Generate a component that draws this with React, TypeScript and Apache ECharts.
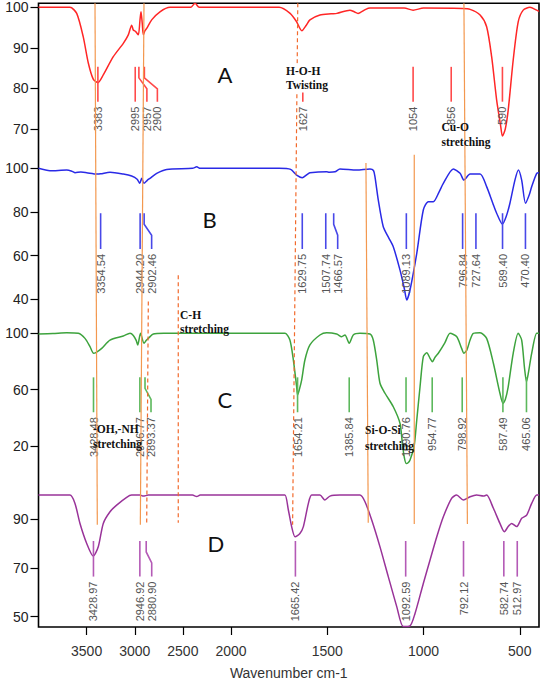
import React, { useEffect, useRef } from "react";
import * as echarts from "echarts";

// ---------- data ----------
const spectrumA: [number, number][] = [
  [4000, 100], [3673, 100], [3603, 98.5], [3535, 92.7], [3482, 86.2], [3430, 82.2], [3383, 81.4],
  [3327, 83.3], [3223, 87.8], [3119, 91.1], [3067, 93.2], [3032, 95.6], [3015, 94.4], [2990, 94.0],
  [2963, 93.2], [2945, 97.0], [2935, 98.9], [2922, 96.0], [2911, 93.2], [2895, 94.2], [2876, 94.8],
  [2824, 96.9], [2738, 98.9], [2634, 100], [2420, 100], [2374, 101], [2330, 100], [1750, 100],
  [1693, 98.5], [1660, 96.5], [1632, 94.2], [1610, 95.5], [1590, 96.9], [1538, 98.1], [1480, 98.4],
  [1450, 98.5], [1382, 99.3], [1360, 98.9], [1340, 98.5], [1300, 99.5], [1278, 99.8], [1100, 99.8],
  [1054, 99.3], [1000, 99.8], [800, 99.7], [758, 99.5], [706, 98.1], [672, 95.2], [646, 87.8],
  [620, 77.1], [600, 71.0], [590, 68.2], [575, 70.0], [560, 74.6], [534, 87.0], [508, 96.4],
  [482, 99.3], [447, 100], [412, 99.3], [400, 99.0],
];
const spectrumB: [number, number][] = [
  [4000, 100], [3881, 98.9], [3707, 99.2], [3650, 98.6], [3620, 98.0], [3560, 98.3], [3499, 98.0],
  [3395, 97.4], [3354, 97.5], [3257, 98.2], [3119, 97.4], [3032, 96.5], [2975, 95.0], [2948, 93.1],
  [2928, 95.4], [2904, 93.1], [2870, 94.5], [2842, 95.4], [2772, 97.7], [2668, 99.5], [2400, 100],
  [2356, 100.7], [2320, 100], [1750, 100], [1690, 99.5], [1659, 96.9], [1630, 95.7], [1600, 97.5],
  [1590, 98.0], [1503, 98.4], [1490, 98.2], [1460, 98.4], [1434, 99.7], [1347, 99.2], [1278, 99.7],
  [1260, 99.0], [1252, 96.1], [1235, 85.5], [1209, 73.2], [1180, 68.0], [1157, 64.0], [1122, 53.3],
  [1100, 45.0], [1087, 39.6], [1070, 44.2], [1035, 61.0], [1001, 80.9], [975, 84.7], [949, 84.7],
  [920, 89.0], [897, 93.1], [845, 99.7], [810, 97.7], [790, 94.6], [758, 97.4], [706, 97.4],
  [672, 91.6], [640, 84.0], [620, 79.4], [590, 74.4], [570, 78.0], [551, 84.0], [525, 94.6],
  [507, 99.2], [490, 94.6], [470, 84.0], [450, 88.0], [438, 91.6], [412, 97.7], [400, 98.0],
];
const spectrumC: [number, number][] = [
  [4000, 99.5], [3850, 99.8], [3707, 100.4], [3586, 100], [3517, 96.4], [3465, 90.5], [3428, 85.8],
  [3400, 86.5], [3343, 89.3], [3257, 95.2], [3119, 98.1], [3049, 100], [3015, 98.5], [2985, 95.0],
  [2969, 91.7], [2940, 100], [2904, 92.9], [2880, 95.0], [2859, 96.4], [2807, 99.5], [2700, 100],
  [1750, 100], [1719, 100], [1694, 95.2], [1676, 81.0], [1659, 62.0], [1654, 56.1], [1645, 60.0],
  [1633, 66.8], [1616, 81.0], [1590, 91.7], [1538, 98.8], [1503, 100.4], [1451, 99.5], [1425, 97.6],
  [1408, 98.8], [1386, 92.9], [1365, 98.8], [1330, 100], [1278, 99.5], [1261, 95.2], [1243, 81.0],
  [1226, 64.5], [1200, 57.4], [1157, 47.8], [1122, 36.0], [1110, 22.0], [1100, 12.0], [1090, 7.5],
  [1080, 8.0], [1070, 10.0], [1049, 19.4], [1035, 38.4], [1018, 62.0], [1001, 83.4], [983, 86.2],
  [966, 82.2], [954, 79.8], [940, 83.0], [923, 85.8], [890, 93.0], [862, 100], [827, 97.6],
  [802, 89.3], [790, 85.8], [775, 88.0], [758, 95.2], [741, 100], [706, 100.4], [672, 96.4],
  [637, 78.7], [603, 57.4], [587, 50.2], [575, 53.0], [560, 62.0], [534, 85.8], [508, 100],
  [490, 95.2], [475, 75.0], [465, 65.6], [455, 72.0], [438, 85.8], [412, 100], [400, 100],
];
const spectrumD: [number, number][] = [
  [4000, 99.8], [3673, 99.8], [3621, 96.4], [3569, 88.2], [3499, 80.0], [3431, 74.8], [3379, 78.6],
  [3327, 88.2], [3257, 93.0], [3188, 95.7], [3084, 98.9], [3032, 99.8], [2945, 99.8], [2911, 99.4],
  [2859, 99.8], [2400, 99.8], [2356, 99.2], [2320, 99.8], [1750, 99.8], [1720, 99.8], [1702, 93.7],
  [1685, 86.9], [1667, 82.7], [1642, 84.1], [1624, 86.9], [1598, 96.4], [1581, 99.8], [1538, 99.8],
  [1512, 97.8], [1486, 99.4], [1434, 99.8], [1330, 99.8], [1304, 97.1], [1269, 89.6], [1226, 78.6],
  [1183, 66.4], [1139, 54.1], [1105, 45.9], [1070, 46.2], [1044, 51.3], [1001, 63.6], [966, 73.2],
  [931, 82.7], [897, 90.9], [854, 98.5], [828, 99.8], [793, 97.8], [758, 99.1], [724, 99.8],
  [689, 99.4], [672, 99.8], [637, 94.4], [603, 88.2], [580, 84.8], [560, 86.9], [542, 88.2],
  [516, 86.9], [490, 90.3], [464, 91.6], [438, 96.4], [412, 99.8], [400, 99.8],
];

const peaksA = [3383, 2995, 2957, 2900, 1627, 1054, 856, 590];
const peaksB = [3354.54, 2944.2, 2902.46, 1629.75, 1507.74, 1466.57, 1089.13, 796.84, 727.64, 589.4, 470.4];
const peaksC = [3428.48, 2946.77, 2893.37, 1654.21, 1385.84, 1090.76, 954.77, 798.92, 587.49, 465.06];
const peaksD = [3428.97, 2946.92, 2880.9, 1665.42, 1092.59, 792.12, 582.74, 512.97];

const xTickLabels = [3500, 3000, 2500, 2000, 1500, 1000, 500];
const yTicksA = [70, 80, 90, 100];
const yTicksB = [40, 60, 80, 100];
const yTicksC = [20, 60, 100];
const yTicksD = [50, 70, 90];

// annotation guide lines (wavenumber at top/bottom, fraction of frame height)
const guideWTop = [3413, 2904, 2859, 2548, 1653, 1299, 1048, 790];
const guideWBottom = [3389, 2942, 2876, 2548, 1680, 1287, 1048, 772];
const guideFTop = [0, 0, 0.478, 0.436, 0, 0.256, 0.243, 0];
const guideFBottom = [0.836, 0.836, 0.836, 0.833, 0.836, 0.833, 0.835, 0.835];
const guideDashed = [false, false, true, true, true, false, false, false];

// ---------- layout ----------
const toU = (w: number) => (w > 2000 ? 2000 + (w - 2000) / 2 : w);
const fromU = (u: number) => (u > 2000 ? 2000 + (u - 2000) * 2 : u);

const GRID = { left: 38.5, right: 4, top: 3.3, bottom: 55 };

const panels = [
  { name: "A", data: spectrumA, peaks: peaksA, dec: 0, ticks: yTicksA, color: "#ff2626", mark: "#ff4a4a",
    yMin: -53.0, yMax: 100.99, markTop: 85.3, markBottom: 76.7, shifts: [0, 0, 8, 13, 0, 0, 0, 0] },
  { name: "B", data: spectrumB, peaks: peaksB, dec: 2, ticks: yTicksB, color: "#2a2ae6", mark: "#4848e8",
    yMin: -110.4, yMax: 175.7, markTop: 79.4, markBottom: 63, shifts: [0, 0, 7.5, 0, 0, 4, 0, 0, 0, 0, 0] },
  { name: "C", data: spectrumC, peaks: peaksC, dec: 2, ticks: yTicksC, color: "#3da33d", mark: "#5cb85c",
    yMin: -108.7, yMax: 334.5, markTop: 68.7, markBottom: 43.9, shifts: [0, 0, 6, 0, 0, 0, 0, 0, 0, 0] },
  { name: "D", data: spectrumD, peaks: peaksD, dec: 2, ticks: yTicksD, color: "#993399", mark: "#b45ab6",
    yMin: 45.74, yMax: 301.4, markTop: 81, markBottom: 66.4, shifts: [0, 0, 5.5, 0, 0, 0, 0, 0] },
];

const FONT = "'Liberation Sans', Arial, sans-serif";
const SERIF = "'Liberation Serif', 'Times New Roman', serif";

export default function App() {
  const ref = useRef<HTMLDivElement>(null);
  useEffect(() => {
    if (!ref.current) return;
    const chart = echarts.init(ref.current, undefined, { renderer: "svg" });

    const grids: any[] = [];
    const xAxes: any[] = [];
    const yAxes: any[] = [];
    const series: any[] = [];

    for (let i = 0; i < 5; i++) {
      grids.push({
        ...GRID,
        containLabel: false,
        outerBoundsMode: "none",
        show: i === 0,
        borderColor: "#000",
        borderWidth: 1.6,
        backgroundColor: "transparent",
      });
      const isBottom = i === 3;
      xAxes.push({
        type: "value",
        gridIndex: i,
        min: 400,
        max: 3000,
        inverse: true,
        show: isBottom,
        axisLine: { show: false },
        splitLine: { show: false },
        axisTick: {
          show: isBottom,
          customValues: xTickLabels.map(toU),
          length: 8,
          lineStyle: { color: "#000", width: 1.2 },
        },
        axisLabel: {
          show: isBottom,
          customValues: xTickLabels.map(toU),
          formatter: (v: number) => String(Math.round(fromU(v))),
          fontSize: 14,
          color: "#333",
          fontFamily: FONT,
          margin: 17,
        },
        name: isBottom ? "Wavenumber cm-1" : "",
        nameLocation: "middle",
        nameGap: 39,
        nameTextStyle: { fontSize: 14, color: "#333", fontFamily: FONT },
      });
    }

    panels.forEach((p, i) => {
      yAxes.push({
        type: "value",
        gridIndex: i,
        min: p.yMin,
        max: p.yMax,
        axisLine: { show: false },
        splitLine: { show: false },
        axisTick: { show: true, customValues: p.ticks, length: 8, lineStyle: { color: "#000", width: 1.2 } },
        axisLabel: { customValues: p.ticks, fontSize: 14, color: "#222", fontFamily: FONT, margin: 10 },
      });
      series.push({
        type: "line",
        xAxisIndex: i,
        yAxisIndex: i,
        data: p.data.map(([w, t]) => [toU(w), t]),
        showSymbol: false,
        smooth: 0.25,
        lineStyle: { color: p.color, width: 1.5 },
        silent: true,
        z: 3,
      });
      series.push({
        type: "custom",
        xAxisIndex: i,
        yAxisIndex: i,
        data: p.peaks.map((w, k) => [toU(w), p.markTop, k]),
        silent: true,
        z: 4,
        renderItem: (params: any, api: any) => {
          const u = api.value(0);
          const k = api.value(2);
          const top = api.coord([u, p.markTop]);
          const bot = api.coord([u, p.markBottom]);
          const x = top[0];
          const s = p.shifts[k] || 0;
          const pts =
            s === 0
              ? [[x, top[1]], [x, bot[1]]]
              : [[x, top[1]], [x, top[1] + 11], [x + s, top[1] + 22], [x + s, bot[1]]];
          return {
            type: "group",
            children: [
              { type: "polyline", shape: { points: pts }, style: { stroke: p.mark, lineWidth: 1.6, fill: null } },
              {
                type: "text",
                x: x + s,
                y: bot[1] + 5,
                rotation: Math.PI / 2,
                style: {
                  text: p.peaks[k].toFixed(p.dec),
                  align: "right",
                  verticalAlign: "middle",
                  fill: "#555",
                  fontSize: 11,
                  fontFamily: FONT,
                },
              },
            ],
          };
        },
      });
    });

    // overlay axes for guide lines (y = fraction of frame height, 0 at top)
    yAxes.push({ type: "value", gridIndex: 4, min: 0, max: 1, inverse: true, show: false });
    guideWTop.forEach((w, k) => {
      series.push({
        type: "line",
        xAxisIndex: 4,
        yAxisIndex: 4,
        data: [[toU(w), guideFTop[k]], [toU(guideWBottom[k]), guideFBottom[k]]],
        showSymbol: false,
        silent: true,
        z: 5,
        lineStyle: {
          color: guideDashed[k] ? "#f26a2c" : "#f3984f",
          width: 1.2,
          type: guideDashed[k] ? [4, 3] : "solid",
        },
      });
    });

    const note = (text: string, x: number, y: number, lh: number, bg?: string) => ({
      type: "text",
      x,
      y,
      z: 20,
      style: {
        text,
        fontFamily: SERIF,
        fontWeight: "bold",
        fontSize: 11.5,
        lineHeight: lh,
        fill: "#111",
        align: "left",
        verticalAlign: "top",
        backgroundColor: bg,
      },
    });
    const letter = (text: string, x: number, y: number) => ({
      type: "text",
      x,
      y,
      z: 20,
      style: { text, fontFamily: "Lato, 'Liberation Sans', sans-serif", fontSize: 22, fill: "#111", align: "left", verticalAlign: "middle" },
    });

    chart.setOption({
      animation: false,
      backgroundColor: "#fff",
      grid: grids,
      xAxis: xAxes,
      yAxis: yAxes,
      series,
      graphic: [
        letter("A", 217.5, 74),
        letter("B", 202.5, 219.5),
        letter("C", 217.5, 399),
        letter("D", 207.5, 543.5),
        note("H-O-H\nTwisting", 286, 63.5, 14.5, "#fff"),
        note("Cu-O\nstretching", 441.5, 119.5, 15),
        note("C-H\nstretching", 180, 308, 14),
        note("-OH,-NH\nstretching", 93, 421, 15),
        note("Si-O-Si\nstretching", 365, 422.5, 15.5),
      ],
    });
    return () => chart.dispose();
  }, []);
  return <div ref={ref} style={{ position: "absolute", left: 0, top: 0, width: 543, height: 682 }} />;
}
